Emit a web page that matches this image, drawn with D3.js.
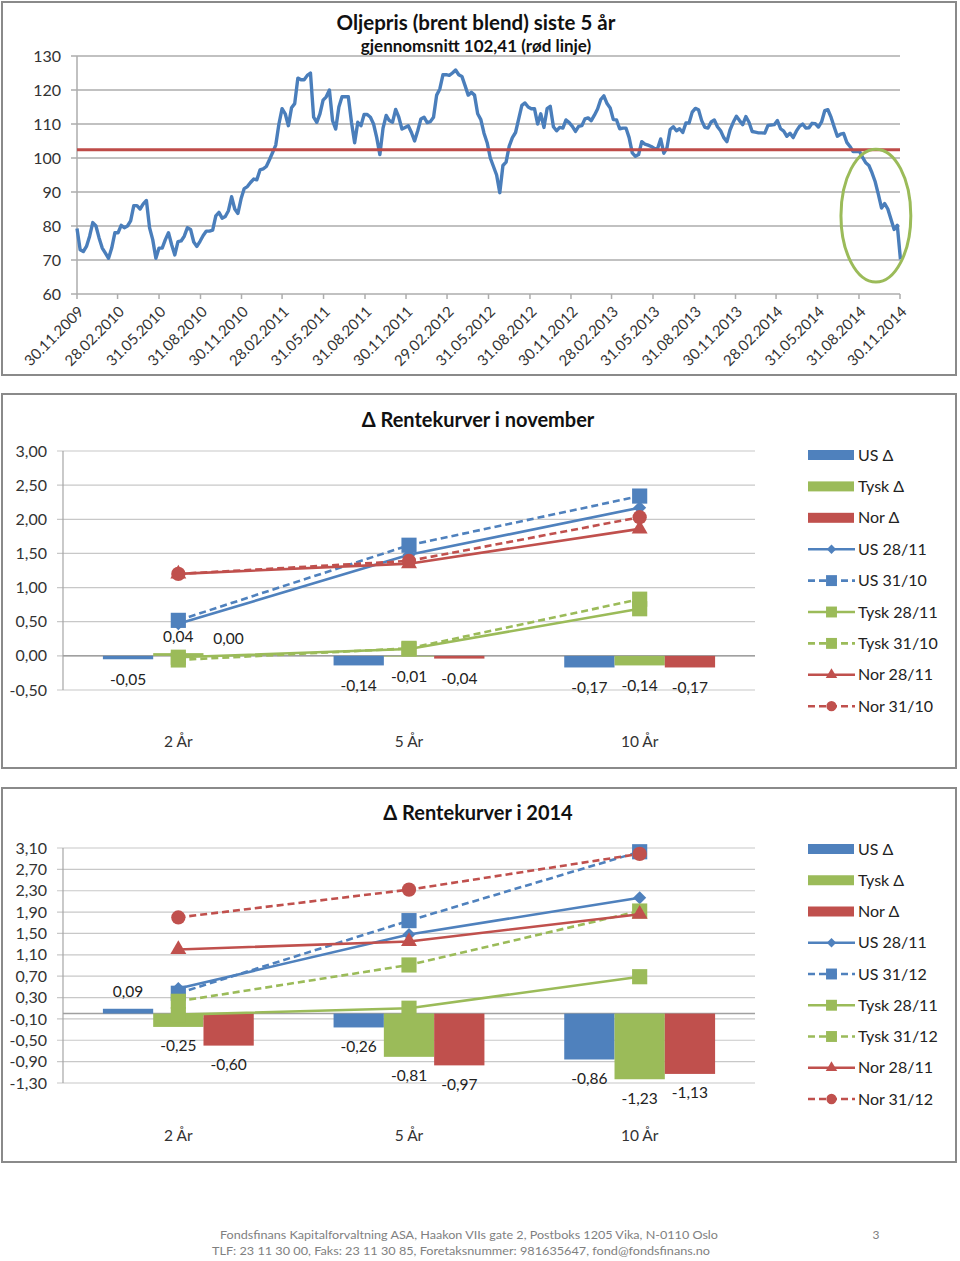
<!DOCTYPE html>
<html><head><meta charset="utf-8">
<script src="https://cdn.jsdelivr.net/npm/d3@7"></script>
<style>
body{margin:0;background:#fff;}
svg{display:block;font-family:Lato,"Open Sans",sans-serif;}
</style></head><body>
<svg id="c" width="960" height="1261"></svg>
<script>
// ---------- DATA ----------
const oilStartDate = "2009-11-30";           // weekly closes, one value per week
const oilWeekly = [
79.3,73,72.5,74,77,81,80,76.5,73.5,72,
70.5,73.5,78,78,80.2,79.5,80,81.5,86,86,
85,86.5,87.5,79.5,76,70.5,73.5,73.5,76,78,
74.5,71.5,75.4,75.6,77,79.5,79,75.3,74,75.5,
77.2,78.5,78.5,78.8,83,84,82.3,82.8,84.5,88.6,
85,83.7,88,91,91.6,92.8,93.8,93.6,96.5,96.8,
97.5,99.5,101.6,103.8,110,114.5,113,109.5,114.8,116,
123.5,123,123,124.3,125,112,110.5,113,117,118,
120,111,108.5,115,118,118,118,110.5,104.5,110.5,
109.5,112.8,112.8,112,110,106,101,108.8,112.5,111,
110.5,114.3,112,108.5,109,109.5,107.5,105,108,111.5,
112,110.4,110.7,112,118.5,120.3,124.5,124.5,124.3,125,
125.9,124.5,124,121.3,118.5,119.3,118.5,113,111.3,107.3,
104.5,100,97.5,95,89.8,97.8,98.8,103.5,106,107.5,
111.5,115.5,116.2,115,114.5,114.5,110,113,109,114.5,
115.2,109.2,108,109,108.8,111.2,110.4,109.3,107.8,109.3,
109.5,111.5,111.8,111,112.6,114.4,117.2,118.3,116,114.7,
111.3,111.2,108.6,108.8,108.8,106,101.5,100.5,101,104.8,
104.1,103.8,103.4,102.8,102.7,105.6,101.4,103,108.4,109.2,
108,108.6,107.5,110.3,110.3,113.5,114.6,114.2,111,109,
108.8,110.6,111.2,109.2,108,106,104.8,108.3,110.5,112.3,
111,109.8,112.2,110.5,107.8,107.6,107.4,107.4,107.3,109.6,
109.7,109.8,111,108.6,107.9,106.4,107.3,106,107.9,109.3,
110,108.8,108.9,110.2,110.1,109.1,110.6,113.9,114.2,112,
109.1,106.4,107,107.2,104.6,103.4,101.9,101.9,102,100.2,
98.6,97.8,95.6,93,89.3,85.3,86.6,85,82,79,
80.2,70.2
];
const oilAverage = 102.41;
const oilTickDates = ["2009-11-30","2010-02-28","2010-05-31","2010-08-31","2010-11-30","2011-02-28","2011-05-31","2011-08-31","2011-11-30","2012-02-29","2012-05-31","2012-08-31","2012-11-30","2013-02-28","2013-05-31","2013-08-31","2013-11-30","2014-02-28","2014-05-31","2014-08-31","2014-11-30"];
const oilYTicks = [60,70,80,90,100,110,120,130];
const oilHighlightDates = ["2014-07-22","2014-12-24"];
const oilHighlightValues = [63.5,102.6];

const tenors = ["2 År","5 År","10 År"];
const countries = ["US","Tysk","Nor"];

const novYTicks = [-0.5,0,0.5,1,1.5,2,2.5,3];
const novUSDelta = [-0.05,-0.14,-0.17];
const novTyskDelta = [0.04,-0.01,-0.14];
const novNorDelta = [0.00,-0.04,-0.17];
const novUS2811 = [0.47,1.48,2.17];
const novUS3110 = [0.52,1.62,2.34];
const novTysk2811 = [-0.02,0.10,0.69];
const novTysk3110 = [-0.06,0.11,0.83];
const novNor2811 = [1.20,1.35,1.86];
const novNor3110 = [1.20,1.39,2.03];

const yrYTicks = [-1.3,-0.9,-0.5,-0.1,0.3,0.7,1.1,1.5,1.9,2.3,2.7,3.1];
const yrUSDelta = [0.09,-0.26,-0.86];
const yrTyskDelta = [-0.25,-0.81,-1.23];
const yrNorDelta = [-0.60,-0.97,-1.13];
const yrUS2811 = [0.47,1.48,2.17];
const yrUS3112 = [0.38,1.74,3.03];
const yrTysk2811 = [-0.02,0.10,0.69];
const yrTysk3112 = [0.23,0.91,1.92];
const yrNor2811 = [1.20,1.35,1.86];
const yrNor3112 = [1.80,2.32,2.99];

const footerLines = [
 "Fondsfinans Kapitalforvaltning ASA, Haakon VIIs gate 2, Postboks 1205 Vika, N-0110 Oslo",
 "TLF: 23 11 30 00, Faks: 23 11 30 85, Foretaksnummer: 981635647, fond@fondsfinans.no"
];
const pageNumber = "3";

// ---------- STYLE ----------
const BLUE="#4f81bd", GREEN="#9bbb59", RED="#c0504d";
const colorOf = {US:BLUE, Tysk:GREEN, Nor:RED};
const svg = d3.select("#c");
const fmt = v => d3.format(".2f")(v).replace("\u2212","-").replace(".",",").replace("-0,00","0,00");

function frame(y0,y1){
  svg.append("rect").attr("x",2).attr("y",y0).attr("width",954).attr("height",y1-y0)
    .attr("fill","#fff").attr("stroke","#8a8a8a").attr("stroke-width",2);
}

// ---------- PANEL 1: oil ----------
frame(2,375);
(function(){
  const parse = d3.timeParse("%Y-%m-%d");
  const start = parse(oilStartDate);
  const series = oilWeekly.map((v,i)=>({d:d3.timeDay.offset(start,7*i), v}));
  const x = d3.scaleTime().domain([parse("2009-11-30"),parse("2014-11-30")]).range([77,900]);
  const y = d3.scaleLinear().domain([60,130]).range([294,56]);
  const g = svg.append("g");
  g.selectAll("line.grid").data(oilYTicks).join("line")
    .attr("x1",71).attr("x2",900).attr("y1",d=>y(d)).attr("y2",d=>y(d))
    .attr("stroke","#adadad").attr("stroke-width",1.5);
  g.append("line").attr("x1",x.range()[0]).attr("x2",x.range()[0]).attr("y1",y(130)).attr("y2",y(60))
    .attr("stroke","#adadad").attr("stroke-width",1.5);
  g.selectAll("text.yl").data(oilYTicks).join("text")
    .attr("x",61).attr("y",d=>y(d)).attr("dy","0.35em").attr("text-anchor","end")
    .attr("font-size",16).attr("fill","#333").text(d=>d);
  const ticks = oilTickDates.map(parse);
  g.selectAll("line.xt").data(ticks).join("line")
    .attr("x1",d=>x(d)).attr("x2",d=>x(d)).attr("y1",y(60)).attr("y2",y(60)+5)
    .attr("stroke","#adadad").attr("stroke-width",1.5);
  g.selectAll("text.xl").data(oilTickDates).join("text")
    .attr("transform",d=>`translate(${x(parse(d))+4},${y(60)+15}) rotate(-45)`)
    .attr("text-anchor","end").attr("dy","0.35em").attr("font-size",15).attr("fill","#333")
    .text(d=>d.split("-").reverse().join("."));
  g.append("path").datum(series)
    .attr("d",d3.line().x(d=>x(d.d)).y(d=>y(d.v)))
    .attr("fill","none").attr("stroke","#4a7ebb").attr("stroke-width",3.4).attr("stroke-linejoin","round");
  g.append("line").attr("x1",x.range()[0]).attr("x2",x.range()[1]).attr("y1",y(oilAverage)).attr("y2",y(oilAverage))
    .attr("stroke","#be4b48").attr("stroke-width",3);
  const hx = oilHighlightDates.map(d=>x(parse(d))), hy = oilHighlightValues.map(y);
  g.append("ellipse").attr("cx",(hx[0]+hx[1])/2).attr("cy",(hy[0]+hy[1])/2)
    .attr("rx",(hx[1]-hx[0])/2).attr("ry",Math.abs(hy[0]-hy[1])/2)
    .attr("fill","none").attr("stroke",GREEN).attr("stroke-width",3);
  g.append("text").attr("x",476).attr("y",23).attr("dy","0.35em").attr("text-anchor","middle")
    .attr("font-size",20.5).attr("font-weight","bold").attr("fill","#111").text("Oljepris (brent blend) siste 5 år");
  g.append("text").attr("x",476).attr("y",46).attr("dy","0.35em").attr("text-anchor","middle")
    .attr("font-size",17).attr("font-weight","bold").attr("fill","#111").text("gjennomsnitt 102,41 (rød linje)");
})();

// ---------- PANELS 2 & 3: yield curves ----------
function markerPath(kind, big){
  const s = big ? 1 : 0.72;
  if(kind==="diamond") return d3.symbol().type(d3.symbolSquare).size(85*s*s)();
  if(kind==="square") return d3.symbol().type(d3.symbolSquare).size(230*s*s)();
  if(kind==="triangle") return d3.symbol().type(d3.symbolTriangle).size(110*s*s)();
  return d3.symbol().type(d3.symbolCircle).size(160*s*s)();
}
function rateChart(o){
  const g = svg.append("g");
  const y = d3.scaleLinear().domain(o.yDomain).range(o.yRange);
  const x = d3.scaleBand().domain(tenors).range([63,755]);
  const bw = x.bandwidth();
  const inner = d3.scaleBand().domain(countries).range([bw*0.173,bw*0.827]);
  g.selectAll("line.grid").data(o.yTicks).join("line")
    .attr("x1",57).attr("x2",755).attr("y1",d=>y(d)).attr("y2",d=>y(d))
    .attr("stroke","#c8c8c8").attr("stroke-width",1.2);
  g.append("line").attr("x1",63).attr("x2",63).attr("y1",y(o.yTicks[o.yTicks.length-1])).attr("y2",y(o.yTicks[0]))
    .attr("stroke","#a6a6a6").attr("stroke-width",1.2);
  g.append("line").attr("x1",63).attr("x2",755).attr("y1",y(0)).attr("y2",y(0))
    .attr("stroke","#a0a0a0").attr("stroke-width",1.5);
  g.selectAll("text.yl").data(o.yTicks).join("text")
    .attr("x",47).attr("y",d=>y(d)).attr("dy","0.35em").attr("text-anchor","end")
    .attr("font-size",16).attr("fill","#333").text(fmt);
  g.selectAll("text.cat").data(tenors).join("text")
    .attr("x",d=>x(d)+bw/2).attr("y",o.catY).attr("dy","0.35em").attr("text-anchor","middle")
    .attr("font-size",15.5).attr("fill","#333").text(d=>d);
  g.append("text").attr("x",478).attr("y",o.titleY).attr("dy","0.35em").attr("text-anchor","middle")
    .attr("font-size",o.titleSize).attr("font-weight","bold").attr("fill","#111").text(o.title);
  // bars
  const bars = [];
  countries.forEach((c,ci)=>o.deltas[ci].forEach((v,ti)=>bars.push({c,t:tenors[ti],v})));
  g.selectAll("rect.bar").data(bars).join("rect")
    .attr("x",d=>x(d.t)+inner(d.c)).attr("width",inner.bandwidth())
    .attr("y",d=>Math.min(y(d.v),y(0))).attr("height",d=>Math.abs(y(d.v)-y(0)))
    .attr("fill",d=>colorOf[d.c]);
  g.selectAll("text.lab").data(bars).join("text")
    .attr("x",d=>x(d.t)+inner(d.c)+inner.bandwidth()/2)
    .attr("y",d=>d.v>=0 ? y(d.v)-17 : y(d.v)+o.negOff)
    .attr("dy","0.35em").attr("text-anchor","middle").attr("font-size",15.5).attr("fill","#222")
    .text(d=>fmt(d.v));
  // lines
  const line = d3.line().x((d,i)=>x(tenors[i])+bw/2).y(d=>y(d));
  o.lines.forEach(L=>{
    g.append("path").datum(L.values).attr("d",line).attr("fill","none")
      .attr("stroke",colorOf[L.c]).attr("stroke-width",2.6)
      .attr("stroke-dasharray",L.dash?"7,4":null);
    g.selectAll(null).data(L.values).join("path")
      .attr("d",markerPath(L.marker,true))
      .attr("transform",(d,i)=>`translate(${x(tenors[i])+bw/2},${y(d)})${L.marker==="diamond"?" rotate(45)":""}`)
      .attr("fill",colorOf[L.c]);
  });
  // legend
  const items = countries.map(c=>({name:c+" Δ",c,bar:true})).concat(o.lines.map(L=>({name:L.name,c:L.c,marker:L.marker,dash:L.dash})));
  const lg = g.selectAll("g.leg").data(items).join("g")
    .attr("transform",(d,i)=>`translate(808,${o.legY+i*o.legStep})`);
  lg.filter(d=>d.bar).append("rect").attr("x",0).attr("y",-5).attr("width",46).attr("height",10).attr("fill",d=>colorOf[d.c]);
  lg.filter(d=>!d.bar).append("line").attr("x1",0).attr("x2",47).attr("y1",0).attr("y2",0)
    .attr("stroke",d=>colorOf[d.c]).attr("stroke-width",2.6).attr("stroke-dasharray",d=>d.dash?"7,4":null);
  lg.filter(d=>!d.bar).append("path").attr("d",d=>markerPath(d.marker,false))
    .attr("transform",d=>`translate(23.5,0)${d.marker==="diamond"?" rotate(45)":""}`).attr("fill",d=>colorOf[d.c]);
  lg.append("text").attr("x",50).attr("y",0).attr("dy","0.35em").attr("font-size",16).attr("fill","#222").text(d=>d.name);
}

frame(394,768);
rateChart({
  title:"Δ Rentekurver i november", titleY:420, catY:742, titleSize:20,
  yDomain:[-0.5,3.0], yRange:[690,451], yTicks:novYTicks, negOff:20,
  deltas:[novUSDelta,novTyskDelta,novNorDelta],
  lines:[
    {name:"US 28/11",c:"US",marker:"diamond",dash:false,values:novUS2811},
    {name:"US 31/10",c:"US",marker:"square",dash:true,values:novUS3110},
    {name:"Tysk 28/11",c:"Tysk",marker:"square",dash:false,values:novTysk2811},
    {name:"Tysk 31/10",c:"Tysk",marker:"square",dash:true,values:novTysk3110},
    {name:"Nor 28/11",c:"Nor",marker:"triangle",dash:false,values:novNor2811},
    {name:"Nor 31/10",c:"Nor",marker:"circle",dash:true,values:novNor3110}
  ],
  legY:455, legStep:31.4
});

frame(788,1162);
rateChart({
  title:"Δ Rentekurver i 2014", titleY:813, catY:1136, titleSize:20,
  yDomain:[-1.3,3.1], yRange:[1083,848], yTicks:yrYTicks, negOff:19,
  deltas:[yrUSDelta,yrTyskDelta,yrNorDelta],
  lines:[
    {name:"US 28/11",c:"US",marker:"diamond",dash:false,values:yrUS2811},
    {name:"US 31/12",c:"US",marker:"square",dash:true,values:yrUS3112},
    {name:"Tysk 28/11",c:"Tysk",marker:"square",dash:false,values:yrTysk2811},
    {name:"Tysk 31/12",c:"Tysk",marker:"square",dash:true,values:yrTysk3112},
    {name:"Nor 28/11",c:"Nor",marker:"triangle",dash:false,values:yrNor2811},
    {name:"Nor 31/12",c:"Nor",marker:"circle",dash:true,values:yrNor3112}
  ],
  legY:849, legStep:31.25
});

// ---------- FOOTER ----------
svg.selectAll("text.foot").data(footerLines).join("text")
  .attr("x",(d,i)=>i===0?220:212).attr("y",(d,i)=>1235+i*16).attr("dy","0.35em")
  .attr("font-size",12).attr("fill","#7f7f7f")
  .attr("textLength",498).attr("lengthAdjust","spacingAndGlyphs").text(d=>d);
svg.append("text").attr("x",876).attr("y",1235).attr("dy","0.35em").attr("text-anchor","middle")
  .attr("font-size",12).attr("fill","#7f7f7f").text(pageNumber);
</script></body></html>
